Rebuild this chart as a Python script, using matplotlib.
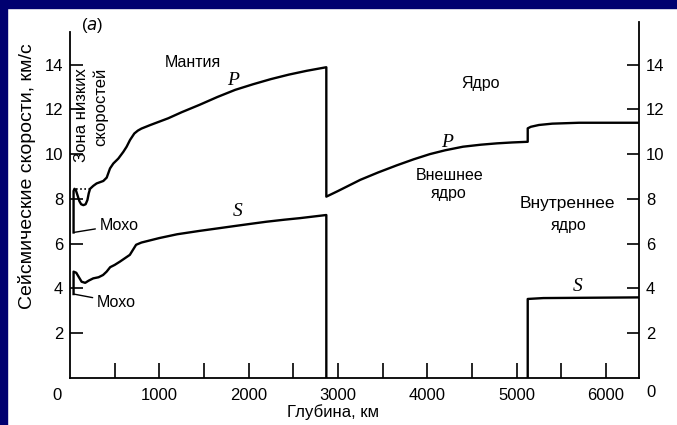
import numpy as np
import matplotlib
matplotlib.use("Agg")
import matplotlib.pyplot as plt

FN = "Liberation Sans"
FS = 12
plt.rc("font", family=FN, size=FS)

# P-wave velocity (km/s) versus depth (km), mantle + outer core + inner core
p_depth = [40, 40, 50, 65, 85, 105, 125, 150, 175, 195, 210, 225, 260, 298,
           373, 411, 448, 485, 541, 597, 634, 672, 720, 760, 800, 900, 1000,
           1100, 1250, 1450, 1650, 1850, 2050, 2250, 2450, 2650, 2870,
           2870, 3000, 3100, 3250, 3450, 3660, 3850, 4030, 4200, 4400, 4600,
           4780, 4950, 5125, 5125, 5160, 5250, 5400, 5700, 6371]
p_vel = [6.5, 8.35, 8.45, 8.4, 8.15, 7.9, 7.76, 7.72, 7.76, 7.95, 8.25, 8.45,
         8.58, 8.69, 8.8, 8.95, 9.36, 9.58, 9.8, 10.1, 10.33, 10.63, 10.92,
         11.05, 11.14, 11.3, 11.45, 11.6, 11.87, 12.2, 12.55, 12.87, 13.12,
         13.35, 13.55, 13.72, 13.88,
         8.1, 8.35, 8.55, 8.85, 9.18, 9.5, 9.77, 10.0, 10.17, 10.33, 10.42,
         10.48, 10.52, 10.55, 11.15, 11.22, 11.3, 11.36, 11.4, 11.4]

# dotted upper bound of the low-velocity zone
lvz_depth = [65, 220]
lvz_vel = [8.45, 8.45]

# S-wave velocity, mantle
s_depth = [40, 40, 70, 100, 130, 170, 210, 260, 320, 370, 410, 450, 500, 560,
           670, 740, 800, 1000, 1200, 1450, 1650, 1830, 2050, 2200, 2400,
           2575, 2870, 2870]
s_vel = [3.75, 4.75, 4.7, 4.5, 4.3, 4.25, 4.35, 4.45, 4.5, 4.6, 4.75, 4.95,
         5.05, 5.2, 5.5, 5.95, 6.05, 6.25, 6.42, 6.57, 6.68, 6.78, 6.9, 6.98,
         7.07, 7.14, 7.28, 0.0]

# S-wave velocity, inner core
s_in_depth = [5125, 5125, 5300, 6371]
s_in_vel = [0.0, 3.53, 3.57, 3.6]

x_ticks = np.arange(500, 6001, 500)
x_labels = ["" if t % 1000 else str(t) for t in x_ticks]
y_ticks = [2, 4, 6, 8, 10, 12, 14]

fig = plt.figure(figsize=(6.77, 4.25), dpi=100)
fig.patch.set_facecolor("white")
# navy frame on the left and top
fig.patches.append(plt.Rectangle((0, 0), 7 / 677, 1, transform=fig.transFigure,
                                 color="#000070", zorder=0))
fig.patches.append(plt.Rectangle((0, 1 - 8 / 425), 1, 8 / 425,
                                 transform=fig.transFigure, color="#000070",
                                 zorder=0))

ax = fig.add_axes([70 / 677, 47 / 425, 569 / 677, 356 / 425])
ax.set_xlim(0, 6371)
ax.set_ylim(0, 15.9)

LW = 1.7
ax.plot(p_depth, p_vel, "-k", lw=LW)
ax.plot(lvz_depth, lvz_vel, "k", lw=1.2, ls=(0, (1, 1.5)))
ax.plot(s_depth, s_vel, "-k", lw=LW)
ax.plot(s_in_depth, s_in_vel, "-k", lw=LW)

for sp in ["left", "right", "bottom"]:
    ax.spines[sp].set_linewidth(1.3)
ax.spines["top"].set_visible(False)
ax.spines["left"].set_bounds(0, 15.45)

ax.set_xticks(x_ticks)
ax.set_xticklabels(x_labels)
ax.set_yticks(y_ticks)
ax.tick_params(axis="x", direction="in", length=11, width=1.2, pad=7)
ax.tick_params(axis="y", direction="in", length=9, width=1.2, pad=5,
               right=True, labelright=True)

ax.text(-0.023, -0.048, "0", transform=ax.transAxes, ha="center", va="center")
ax.text(1.021, -0.042, "0", transform=ax.transAxes, ha="center", va="center")
ax.text(0.462, -0.095, "Глубина, км", transform=ax.transAxes, ha="center",
        va="center")
fig.text(27 / 677, 0.585, "Сейсмические скорости, км/с", rotation=90,
         ha="center", va="center", fontsize=14)

ax.text(246, 15.76, "($\\mathit{a}$)", ha="center", va="center", clip_on=False)
ax.text(1377, 14.1, "Мантия", ha="center", va="center", fontsize=11.5)
ax.text(4602, 13.17, "Ядро", ha="center", va="center", fontsize=11.5)
ax.text(4255, 9.06, "Внешнее", ha="center", va="center", fontsize=11.5)
ax.text(4244, 8.26, "ядро", ha="center", va="center", fontsize=11.5)
ax.text(5565, 7.81, "Внутреннее", ha="center", va="center", fontsize=12.5)
ax.text(5587, 6.83, "ядро", ha="center", va="center", fontsize=11.5)
ax.text(134, 13.84, "Зона низких", rotation=90, ha="center", va="top",
        fontsize=12)
ax.text(336, 13.84, "скоростей", rotation=90, ha="center", va="top",
        fontsize=12)

SER = dict(family="Liberation Serif", style="italic", fontsize=14,
           ha="center", va="center")
ax.text(1825, 13.3, "P", **SER)
ax.text(4221, 10.5, "P", **SER)
ax.text(1881, 7.45, "S", **SER)
ax.text(5688, 4.08, "S", **SER)

ax.annotate("Мохо", xy=(p_depth[0], p_vel[0]), xytext=(330, 6.83),
            ha="left", va="center", fontsize=11.5,
            arrowprops=dict(arrowstyle="-", lw=1, shrinkA=1, shrinkB=0))
ax.annotate("Мохо", xy=(s_depth[0], s_vel[0]), xytext=(300, 3.39),
            ha="left", va="center", fontsize=11.5,
            arrowprops=dict(arrowstyle="-", lw=1, shrinkA=1, shrinkB=0))

plt.savefig("out.png", dpi=100)
